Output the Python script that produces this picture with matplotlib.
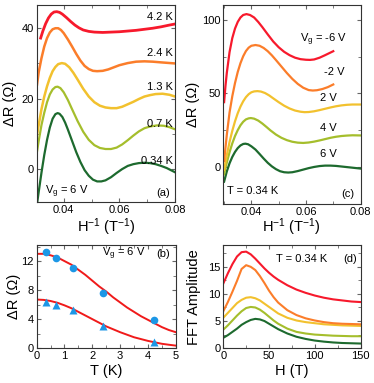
import numpy as np
import matplotlib
matplotlib.use("Agg")
import matplotlib.pyplot as plt
from matplotlib.ticker import MultipleLocator

plt.rcParams['font.family'] = ['Liberation Sans', 'DejaVu Sans']
plt.rcParams['mathtext.default'] = 'regular'
plt.rcParams['font.size'] = 8

colors = ['#1d6a2e', '#a5be2c', '#f2c12e', '#fb7d2a', '#f7192c']

# (a) temperature series, Vg = 6 V
a_labels = ['0.34 K', '0.7 K', '1.3 K', '2.4 K', '4.2 K']
a_h = [
    [0.0305, 0.031, 0.032, 0.033, 0.034, 0.035, 0.036, 0.037, 0.0378, 0.0385, 0.0395,
     0.0405, 0.0415, 0.043, 0.0445, 0.046, 0.0475, 0.049, 0.0505, 0.052, 0.0535,
     0.055, 0.057, 0.059, 0.061, 0.063, 0.065, 0.067, 0.069, 0.071, 0.073, 0.075,
     0.077, 0.080],
    [0.0304, 0.031, 0.032, 0.033, 0.034, 0.035, 0.036, 0.037, 0.0378, 0.0388, 0.040,
     0.0415, 0.043, 0.045, 0.047, 0.049, 0.051, 0.053, 0.055, 0.057, 0.059, 0.061,
     0.063, 0.065, 0.067, 0.069, 0.071, 0.0735, 0.076, 0.078, 0.080],
    [0.0304, 0.031, 0.032, 0.033, 0.034, 0.035, 0.036, 0.037, 0.038, 0.0393, 0.0405,
     0.042, 0.0435, 0.045, 0.047, 0.049, 0.051, 0.053, 0.055, 0.057, 0.059, 0.061,
     0.063, 0.065, 0.067, 0.069, 0.071, 0.073, 0.0755, 0.078, 0.080],
    [0.0304, 0.031, 0.032, 0.033, 0.034, 0.035, 0.036, 0.037, 0.038, 0.039, 0.040,
     0.0415, 0.043, 0.0445, 0.046, 0.0475, 0.049, 0.0505, 0.052, 0.054, 0.056,
     0.058, 0.060, 0.063, 0.066, 0.069, 0.072, 0.075, 0.080],
    [0.0317, 0.0325, 0.0335, 0.0345, 0.0355, 0.0365, 0.0375, 0.0385, 0.0395, 0.041,
     0.0425, 0.044, 0.0455, 0.047, 0.049, 0.051, 0.054, 0.057, 0.060, 0.063, 0.066,
     0.069, 0.072, 0.075, 0.078, 0.080],
]
a_r = [
    [-9.3, -6.5, -1.0, 4.0, 8.3, 11.8, 14.3, 15.6, 15.9, 15.7, 14.8,
     13.2, 11.2, 8.0, 4.8, 2.0, -0.3, -1.9, -3.0, -3.5, -3.5,
     -3.2, -2.3, -1.1, 0.0, 0.9, 1.4, 1.7, 1.8, 1.7, 1.4, 0.9,
     0.3, -0.9],
    [5.0, 8.0, 12.5, 16.0, 19.0, 21.2, 22.6, 23.3, 23.4, 23.0, 21.8,
     19.6, 17.0, 13.6, 10.6, 8.3, 6.8, 6.0, 5.7, 5.7, 6.1, 7.0,
     8.2, 9.5, 10.7, 11.6, 12.1, 12.4, 12.3, 11.9, 11.3],
    [9.7, 12.5, 17.0, 20.6, 23.5, 25.9, 27.8, 29.0, 29.8, 30.1, 29.9,
     28.9, 27.3, 25.4, 22.8, 20.6, 19.0, 18.0, 17.5, 17.3, 17.3, 17.7,
     18.4, 19.1, 19.9, 20.6, 21.0, 21.3, 21.4, 21.1, 20.6],
    [24.0, 27.5, 31.5, 34.8, 37.2, 38.8, 39.7, 40.0, 40.0, 39.5, 38.6,
     36.8, 34.8, 32.7, 30.8, 29.3, 28.4, 27.9, 27.8, 27.9, 28.3,
     28.9, 29.5, 30.1, 30.5, 30.6, 30.5, 30.3, 30.0],
    [37.2, 39.2, 41.3, 42.9, 44.0, 44.6, 44.7, 44.5, 44.0, 43.0,
     41.9, 40.9, 40.1, 39.5, 39.1, 38.9, 38.8, 38.9, 39.0, 39.2, 39.4,
     39.7, 40.0, 40.4, 40.9, 41.2],
]

# (c) gate voltage series, T = 0.34 K
c_labels = ['6 V', '4 V', '2 V', '-2 V', 'V$_g$ = -6 V']
c_h = [
    [0.0300, 0.0305, 0.031, 0.032, 0.033, 0.034, 0.035, 0.036, 0.037, 0.0378, 0.0388,
     0.040, 0.0415, 0.043, 0.0445, 0.046, 0.0475, 0.049, 0.0505, 0.052, 0.0535,
     0.055, 0.057, 0.059, 0.061, 0.063, 0.065, 0.067, 0.069, 0.071, 0.073, 0.075,
     0.077, 0.080],
    [0.0300, 0.0305, 0.031, 0.032, 0.033, 0.034, 0.035, 0.036, 0.037, 0.038, 0.039,
     0.0398, 0.041, 0.0425, 0.044, 0.0455, 0.047, 0.049, 0.051, 0.053, 0.055, 0.057,
     0.059, 0.061, 0.063, 0.065, 0.067, 0.069, 0.071, 0.073, 0.075, 0.077, 0.080],
    [0.0300, 0.0305, 0.031, 0.032, 0.033, 0.034, 0.035, 0.036, 0.037, 0.038, 0.039,
     0.040, 0.041, 0.0422, 0.0435, 0.045, 0.0465, 0.048, 0.050, 0.052, 0.054, 0.056,
     0.058, 0.0595, 0.061, 0.063, 0.065, 0.067, 0.069, 0.071, 0.073, 0.075, 0.077,
     0.080],
    [0.0300, 0.0305, 0.031, 0.032, 0.033, 0.034, 0.035, 0.036, 0.037, 0.038, 0.039,
     0.040, 0.0415, 0.043, 0.0445, 0.046, 0.0475, 0.049, 0.051, 0.053, 0.055, 0.057,
     0.059, 0.061, 0.0625, 0.064, 0.066, 0.068, 0.070],
    [0.0300, 0.0305, 0.031, 0.032, 0.033, 0.034, 0.035, 0.036, 0.037, 0.0382, 0.0395,
     0.041, 0.0425, 0.044, 0.046, 0.048, 0.050, 0.052, 0.054, 0.056, 0.058, 0.060,
     0.0615, 0.063, 0.065, 0.067, 0.070],
]
c_r = [
    [-10, -6.5, -3.0, 2.5, 6.8, 10.2, 12.8, 14.6, 15.6, 15.8, 15.4,
     14.0, 11.8, 8.8, 5.7, 2.8, 0.4, -1.5, -2.9, -3.6, -3.8,
     -3.6, -2.8, -1.8, -0.8, 0.0, 0.6, 0.9, 0.9, 0.7, 0.3, -0.1,
     -0.5, -1.1],
    [-5, -0.5, 3, 10, 16, 21, 25, 28.3, 30.7, 32.3, 33.0,
     33.2, 32.8, 31.5, 29.5, 27.2, 24.8, 22.0, 19.8, 18.2, 17.1, 16.5,
     16.3, 16.6, 17.2, 18.0, 18.9, 19.8, 20.5, 21.0, 21.3, 21.5, 21.4],
    [-2, 3, 8, 17, 24.5, 31, 36.5, 41, 44.6, 47.4, 49.4,
     50.7, 51.3, 51.5, 51.2, 50.2, 48.6, 46.6, 44.0, 41.6, 39.7, 38.3,
     37.5, 37.2, 37.3, 37.8, 38.6, 39.5, 40.4, 41.2, 41.8, 42.2, 42.4,
     42.4],
    [4, 13, 22, 37, 48, 57, 64.5, 70.5, 75.2, 78.7, 81.0,
     82.3, 82.8, 82.3, 80.8, 78.6, 75.8, 72.6, 68.2, 63.8, 59.8, 56.4,
     53.8, 52.2, 51.9, 52.1, 52.9, 54.2, 56],
    [44, 55, 64, 78, 87.5, 94, 98.5, 101.5, 103.2, 103.8, 103.2,
     101.5, 98.5, 95, 90, 85.2, 81.3, 78.2, 75.9, 74.2, 73.2, 72.8,
     72.7, 73.0, 74.2, 75.9, 78.6],
]

# (b) amplitude vs temperature
b_t = [0.34, 0.7, 1.3, 2.4, 4.2]
b_circ = [13.2, 12.4, 11.1, 7.6, 3.9]
b_tri = [6.4, 6.0, 5.2, 3.1, 0.8]
fit_t = [0, 0.25, 0.5, 0.75, 1.0, 1.25, 1.5, 1.75, 2.0, 2.25, 2.5, 2.75, 3.0,
         3.25, 3.5, 3.75, 4.0, 4.25, 4.5, 4.75, 5.0]
fit_hi = [13.0, 13.0, 12.8, 12.5, 12.0, 11.5, 10.8, 10.1, 9.3, 8.5, 7.8, 7.0, 6.3,
          5.6, 5.0, 4.4, 3.9, 3.4, 2.9, 2.5, 2.2]
fit_lo = [6.7, 6.65, 6.5, 6.25, 5.9, 5.5, 5.0, 4.5, 4.0, 3.5, 3.0, 2.6, 2.2,
          1.85, 1.5, 1.25, 1.0, 0.8, 0.6, 0.47, 0.35]

# (d) FFT amplitude
d_field = [0, 5, 10, 15, 20, 25, 30, 35, 40, 45, 50, 55, 60, 70, 80, 90, 100,
           110, 120, 130, 140, 150]
d_amp = [
    [1.9, 2.4, 3.0, 3.6, 4.3, 4.8, 5.2, 5.4, 5.3, 5.0, 4.5, 4.0, 3.5, 2.7, 2.1,
     1.7, 1.4, 1.2, 1.05, 0.95, 0.9, 0.85],
    [3.4, 4.2, 5.1, 6.0, 6.8, 7.4, 7.6, 7.5, 7.1, 6.5, 5.8, 5.1, 4.5, 3.6, 3.0,
     2.7, 2.5, 2.4, 2.3, 2.25, 2.2, 2.2],
    [5.6, 6.5, 7.4, 8.3, 8.9, 9.3, 9.4, 9.2, 8.8, 8.2, 7.6, 7.0, 6.4, 5.6, 5.1,
     4.8, 4.6, 4.4, 4.3, 4.2, 4.15, 4.1],
    [6.8, 8.5, 10.4, 12.4, 14.6, 15.3, 15.0, 14.4, 13.3, 12.0, 10.6, 9.4, 8.4,
     7.0, 6.1, 5.5, 5.1, 4.8, 4.6, 4.5, 4.45, 4.4],
    [11.9, 13.8, 15.5, 16.9, 17.7, 17.8, 17.3, 16.5, 15.6, 14.7, 13.9, 13.2, 12.6,
     11.6, 10.8, 10.2, 9.7, 9.3, 9.0, 8.8, 8.6, 8.5],
]


def style(ax):
    ax.tick_params(which='both', direction='in', top=True, right=True,
                   color='#666666', labelsize=8, pad=2)
    ax.tick_params(which='major', length=3)
    ax.tick_params(which='minor', length=2)
    for s in ax.spines.values():
        s.set_color('#333333')
        s.set_linewidth(0.8)


fig = plt.figure(figsize=(3.74, 3.83), dpi=100)
ax_a = fig.add_axes([0.099, 0.473, 0.369, 0.514])
ax_c = fig.add_axes([0.597, 0.468, 0.367, 0.519])
ax_b = fig.add_axes([0.098, 0.091, 0.372, 0.269])
ax_d = fig.add_axes([0.597, 0.091, 0.367, 0.269])

# panel a
lw_a = [1.6, 1.6, 1.8, 1.8, 2.0]
for h, r, c, lw in zip(a_h, a_r, colors, lw_a):
    ax_a.plot(h, r, color=c, lw=lw, solid_joinstyle='round')
ax_a.set_xlim(0.0304, 0.08)
ax_a.set_ylim(-9.3, 46.6)
ax_a.xaxis.set_major_locator(MultipleLocator(0.02))
ax_a.xaxis.set_minor_locator(MultipleLocator(0.01))
ax_a.yaxis.set_major_locator(MultipleLocator(20))
ax_a.yaxis.set_minor_locator(MultipleLocator(10))
ax_a.set_xlabel('H$^{-1}$ (T$^{-1}$)', fontsize=10.5)
ax_a.set_ylabel('ΔR (Ω)', fontsize=10.5)
ax_a.yaxis.set_label_coords(-0.145, 0.5)
ax_a.xaxis.set_label_coords(0.5, -0.072)
for lab, y in zip(a_labels, [0.208, 0.396, 0.584, 0.756, 0.939]):
    ax_a.text(0.986, y, lab, transform=ax_a.transAxes, ha='right', va='center', fontsize=8)
ax_a.text(0.058, 0.051, 'V$_g$ = 6 V', transform=ax_a.transAxes, ha='left', va='center', fontsize=8)
ax_a.text(0.964, 0.046, '(a)', transform=ax_a.transAxes, ha='right', va='center', fontsize=8)
style(ax_a)

# panel c
for h, r, c in zip(c_h, c_r, colors):
    ax_c.plot(h, r, color=c, lw=1.6, solid_joinstyle='round')
ax_c.set_xlim(0.0297, 0.08)
ax_c.set_ylim(-25, 110)
ax_c.xaxis.set_major_locator(MultipleLocator(0.02))
ax_c.xaxis.set_minor_locator(MultipleLocator(0.01))
ax_c.yaxis.set_major_locator(MultipleLocator(50))
ax_c.yaxis.set_minor_locator(MultipleLocator(25))
ax_c.set_xlabel('H$^{-1}$ (T$^{-1}$)', fontsize=10.5)
ax_c.set_ylabel('ΔR (Ω)', fontsize=10.5)
ax_c.yaxis.set_label_coords(-0.17, 0.5)
ax_c.xaxis.set_label_coords(0.5, -0.062)
for lab, x, y in zip(c_labels, [0.828, 0.828, 0.828, 0.886, 0.90],
                     [0.251, 0.382, 0.533, 0.663, 0.824]):
    ax_c.text(x, y, lab, transform=ax_c.transAxes, ha='right', va='center', fontsize=8)
ax_c.text(0.03, 0.065, 'T = 0.34 K', transform=ax_c.transAxes, ha='left', va='center', fontsize=8)
ax_c.text(0.957, 0.05, '(c)', transform=ax_c.transAxes, ha='right', va='center', fontsize=8)
style(ax_c)

# panel b
ax_b.plot(fit_t, fit_hi, color='#f01a1a', lw=1.4, zorder=2)
ax_b.plot(fit_t, fit_lo, color='#f01a1a', lw=1.4, zorder=2)
ax_b.plot(b_t, b_circ, 'o', color='#1c97e6', ms=5.5, mec='none', zorder=3)
ax_b.plot(b_t, b_tri, '^', color='#1c97e6', ms=6, mec='none', zorder=3)
ax_b.set_xlim(0, 5)
ax_b.set_ylim(0, 14.2)
ax_b.xaxis.set_major_locator(MultipleLocator(1))
ax_b.xaxis.set_minor_locator(MultipleLocator(0.5))
ax_b.yaxis.set_major_locator(MultipleLocator(4))
ax_b.yaxis.set_minor_locator(MultipleLocator(2))
ax_b.set_xlabel('T (K)', fontsize=10.5)
ax_b.set_ylabel('ΔR (Ω)', fontsize=10.5)
ax_b.yaxis.set_label_coords(-0.11, 0.5)
ax_b.xaxis.set_label_coords(0.5, -0.15)
ax_b.text(0.47, 0.913, 'V$_g$ = 6 V', transform=ax_b.transAxes, ha='left', va='center', fontsize=8)
ax_b.text(0.96, 0.913, '(b)', transform=ax_b.transAxes, ha='right', va='center', fontsize=8)
style(ax_b)

# panel d
for amp, c in zip(d_amp, colors):
    ax_d.plot(d_field, amp, color=c, lw=1.5, solid_joinstyle='round')
ax_d.set_xlim(0, 150)
ax_d.set_ylim(0, 19)
ax_d.xaxis.set_major_locator(MultipleLocator(50))
ax_d.xaxis.set_minor_locator(MultipleLocator(25))
ax_d.yaxis.set_major_locator(MultipleLocator(5))
ax_d.yaxis.set_minor_locator(MultipleLocator(2.5))
ax_d.set_xlabel('H (T)', fontsize=10.5)
ax_d.set_ylabel('FFT Amplitude', fontsize=10.5)
ax_d.yaxis.set_label_coords(-0.165, 0.5)
ax_d.xaxis.set_label_coords(0.5, -0.15)
ax_d.text(0.384, 0.864, 'T = 0.34 K', transform=ax_d.transAxes, ha='left', va='center', fontsize=8)
ax_d.text(0.973, 0.864, '(d)', transform=ax_d.transAxes, ha='right', va='center', fontsize=8)
style(ax_d)

fig.savefig('out.png', dpi=100)
